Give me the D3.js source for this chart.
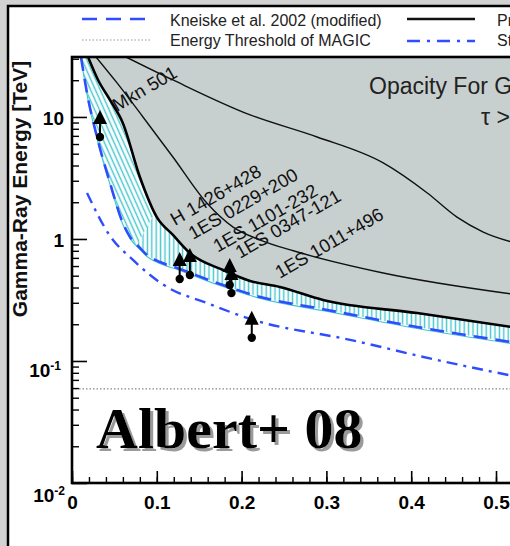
<!DOCTYPE html>
<html><head><meta charset="utf-8">
<script src="https://cdn.jsdelivr.net/npm/d3@7"></script>
<style>
html,body{margin:0;padding:0;background:#d2d2d2;overflow:hidden;}
svg{display:block;}
</style></head><body>
<svg id="c" width="510" height="546"></svg>
<script>
// ---------------- data ----------------
// thick black: Primack et al. 2005 (tau = 1 horizon)
const primackZ = [0.0189, 0.0307, 0.0448, 0.060, 0.080, 0.100, 0.119, 0.139, 0.178, 0.210, 0.245, 0.296, 0.407, 0.53];
const primackE = [31, 20.1, 13.8, 8.9, 3.22, 1.51, 1.08, 0.767, 0.557, 0.453, 0.404, 0.316, 0.247, 0.185];
// blue dashed: Kneiske et al. 2002 (modified)
const kneiskeZ = [0.0106, 0.0177, 0.0295, 0.0448, 0.060, 0.0684, 0.0802, 0.0884, 0.1038, 0.124, 0.171, 0.222, 0.301, 0.407, 0.53];
const kneiskeE = [31, 15.7, 6.85, 2.88, 1.35, 1.04, 0.843, 0.740, 0.647, 0.578, 0.436, 0.335, 0.262, 0.190, 0.139];
// blue dash-dot: Stecker et al. 2006
const steckerZ = [0.0177, 0.0448, 0.0719, 0.112, 0.159, 0.210, 0.328, 0.430, 0.53];
const steckerE = [2.38, 1.06, 0.673, 0.404, 0.299, 0.221, 0.149, 0.102, 0.073];
// thin black curves inside the opaque region
const tauAZ = [0.0637, 0.119, 0.210, 0.289, 0.367, 0.419, 0.454, 0.485, 0.53];
const tauAE = [31, 20.1, 10.4, 6.85, 4.20, 2.38, 1.51, 1.14, 0.90];
const tauBZ = [0.0283, 0.0531, 0.0837, 0.119, 0.159, 0.190, 0.222, 0.261, 0.367, 0.53];
const tauBE = [31, 19.0, 10, 4.70, 1.97, 1.25, 0.98, 0.80, 0.526, 0.345];
// energy threshold of MAGIC
const thresholdE = 0.059;
// sources (lower limits)
const srcNames = ["Mkn 501", "H 1426+428", "1ES 0229+200", "1ES 1101-232", "1ES 0347-121", "1ES 1011+496"];
const srcZ = [0.033, 0.127, 0.139, 0.186, 0.188, 0.212];
const srcE = [6.85, 0.47, 0.507, 0.42, 0.36, 0.155];
// source label anchors (redshift, energy)
const labelZ = [0.053, 0.1215, 0.1427, 0.172, 0.198, 0.245];
const labelE = [11.0, 1.28, 0.98, 0.77, 0.686, 0.47];
// axes
const xMajor = [0, 0.1, 0.2, 0.3, 0.4, 0.5, 0.6];
const xMinor = d3.range(0, 0.61, 0.02);
const yMajor = [0.01, 0.1, 1, 10];
const yMinor = [0.02,0.03,0.04,0.05,0.06,0.07,0.08,0.09,0.2,0.3,0.4,0.5,0.6,0.7,0.8,0.9,2,3,4,5,6,7,8,9,20,30];
const legendLabels = ["Kneiske et al. 2002 (modified)", "Energy Threshold of MAGIC", "Primack et al. 2005", "Stecker et al. 2006"];

// ---------------- drawing ----------------
const svg = d3.select("#c");
const x = d3.scaleLinear().domain([0, 0.5]).range([72, 496]);
const y = d3.scaleLog().domain([0.01, 31]).range([483, 57]);
const X0 = x(0), X1 = x(0.6), Y0 = y(0.01), Y1 = y(31);
const SANS = "'Liberation Sans', Arial, Helvetica, sans-serif";
const BLUE = "#2f4dff";
const CYAN = "#45c6cf";

// panel
svg.append("rect").attr("x", 8).attr("y", 6).attr("width", 540).attr("height", 560)
  .attr("fill", "#fff").attr("stroke", "#000").attr("stroke-width", 2.5);

const defs = svg.append("defs");
defs.append("filter").attr("id", "shadow").attr("x", "-10%").attr("y", "-10%").attr("width", "130%").attr("height", "140%")
  .append("feDropShadow").attr("dx", 3).attr("dy", 3).attr("stdDeviation", 0.6)
  .attr("flood-color", "#9a9a9a").attr("flood-opacity", 1);
defs.append("clipPath").attr("id", "plotclip").append("rect")
  .attr("x", X0).attr("y", Y1).attr("width", X1 - X0).attr("height", Y0 - Y1);

// seam between slanted and vertical hatching (a slanted line across the band)
const sA = [x(0.066), y(0.66)], sB = [x(0.105), y(2.0)];
const sl = (sB[0] - sA[0]) / (sB[1] - sA[1]);
const atY = yy => sA[0] + (yy - sA[1]) * sl;
defs.append("clipPath").attr("id", "cl").append("polygon")
  .attr("points", [[X0 - 5, Y1 - 5], [atY(Y1 - 5), Y1 - 5], [atY(Y0 + 5), Y0 + 5], [X0 - 5, Y0 + 5]].join(" "));
defs.append("clipPath").attr("id", "cr").append("polygon")
  .attr("points", [[atY(Y1 - 5), Y1 - 5], [X1 + 5, Y1 - 5], [X1 + 5, Y0 + 5], [atY(Y0 + 5), Y0 + 5]].join(" "));

function hatch(id, rot) {
  const p = defs.append("pattern").attr("id", id).attr("patternUnits", "userSpaceOnUse")
    .attr("width", 4.4).attr("height", 20);
  if (rot) p.attr("patternTransform", `rotate(${rot})`);
  p.append("rect").attr("width", 4.4).attr("height", 20).attr("fill", "#fff");
  p.append("line").attr("x1", 2.2).attr("x2", 2.2).attr("y1", 0).attr("y2", 20)
    .attr("stroke", CYAN).attr("stroke-width", 1.4);
}
hatch("hv", 0);
hatch("hd", -24);

const pts = (zs, es) => zs.map((z, i) => [z, es[i]]);
const primack = pts(primackZ, primackE);
const kneiske = pts(kneiskeZ, kneiskeE);
const stecker = pts(steckerZ, steckerE);
const tauA = pts(tauAZ, tauAE);
const tauB = pts(tauBZ, tauBE);

const line = d3.line().x(d => x(d[0])).y(d => y(d[1])).curve(d3.curveMonotoneX);
const plot = svg.append("g").attr("clip-path", "url(#plotclip)");

// opaque grey region
const area = d3.area().x(d => x(d[0])).y0(Y1 - 2).y1(d => y(d[1])).curve(d3.curveMonotoneX);
plot.append("path").datum(primack).attr("d", area).attr("fill", "#c8d0cf");

// hatched band between Kneiske and Primack
const bandPath = line(primack) + "L" + line(kneiske.slice().reverse()).slice(1) + "Z";
plot.append("g").attr("clip-path", "url(#cl)").append("path").attr("d", bandPath).attr("fill", "url(#hd)");
plot.append("g").attr("clip-path", "url(#cr)").append("path").attr("d", bandPath).attr("fill", "url(#hv)");
plot.append("path").datum(kneiske).attr("d", line).attr("fill", "none").attr("stroke", CYAN).attr("stroke-width", 1.2).attr("transform", "translate(0,1.5)");

// thin curves
[tauA, tauB].forEach(c => plot.append("path").datum(c).attr("d", line)
  .attr("fill", "none").attr("stroke", "#111").attr("stroke-width", 1.4));

// threshold
plot.append("line").attr("x1", X0).attr("x2", X1).attr("y1", y(thresholdE)).attr("y2", y(thresholdE))
  .attr("stroke", "#888").attr("stroke-width", 1.2).attr("stroke-dasharray", "1.5,2");

// model curves
plot.append("path").datum(stecker).attr("d", line).attr("fill", "none")
  .attr("stroke", BLUE).attr("stroke-width", 2.4).attr("stroke-dasharray", "11,6,3,6");
plot.append("path").datum(kneiske).attr("d", line).attr("fill", "none")
  .attr("stroke", BLUE).attr("stroke-width", 2.6).attr("stroke-dasharray", "14,8");
plot.append("path").datum(primack).attr("d", line).attr("fill", "none")
  .attr("stroke", "#000").attr("stroke-width", 2.6);

// source labels
plot.selectAll("text.src").data(srcNames).join("text").attr("class", "src")
  .attr("transform", (d, i) => `translate(${x(labelZ[i])},${y(labelE[i])}) rotate(-30)`)
  .attr("font-family", SANS).attr("font-size", 18.5).attr("fill", "#111").text(d => d);

// lower-limit arrows
const arr = plot.selectAll("g.arr").data(srcZ).join("g").attr("class", "arr")
  .attr("transform", (d, i) => `translate(${x(d)},${y(srcE[i])})`);
arr.append("line").attr("x1", 0).attr("x2", 0).attr("y1", 0).attr("y2", -14).attr("stroke", "#000").attr("stroke-width", 2);
arr.append("path").attr("d", "M0,-27L7,-13L-7,-13Z").attr("fill", "#000");
arr.append("circle").attr("r", 4.2).attr("fill", "#000");

// annotation
svg.append("text").attr("x", 369).attr("y", 94).attr("font-family", SANS).attr("font-size", 23)
  .attr("fill", "#222").text("Opacity For Gamma-Rays");
svg.append("text").attr("x", 481).attr("y", 125).attr("font-family", SANS).attr("font-size", 23)
  .attr("fill", "#222").text("τ > 1");

// Albert+ 08 with shadow
svg.append("text").attr("x", 96).attr("y", 448)
  .attr("font-family", "'Liberation Serif', 'Times New Roman', serif")
  .attr("font-weight", "bold").attr("font-size", 58).attr("fill", "#000")
  .attr("filter", "url(#shadow)").text("Albert+ 08");

// axes
const gx = svg.append("g").attr("transform", `translate(0,${Y0})`);
gx.call(d3.axisBottom(x).tickValues(xMinor).tickSize(-6).tickFormat(""));
gx.call(g => g.selectAll(".tick line").attr("stroke-width", 1.4));
const gx2 = svg.append("g").attr("transform", `translate(0,${Y0})`);
gx2.call(d3.axisBottom(x).tickValues(xMajor).tickSizeInner(-12).tickSizeOuter(0).tickPadding(12.5)
  .tickFormat(d => d === 0 ? "0" : d3.format(".1f")(d)));
gx2.select(".domain").remove();
gx2.selectAll(".tick line").attr("stroke-width", 1.6);
gx2.selectAll("text").attr("font-family", SANS).attr("font-weight", "bold").attr("font-size", 19).attr("fill", "#000");

const gy = svg.append("g").attr("transform", `translate(${X0},0)`);
gy.call(d3.axisLeft(y).tickValues(yMinor).tickSize(-7).tickFormat(""));
gy.select(".domain").remove();
gy.selectAll(".tick line").attr("stroke-width", 1.4);
const gy2 = svg.append("g").attr("transform", `translate(${X0},0)`);
gy2.call(d3.axisLeft(y).tickValues(yMajor).tickSizeInner(-15).tickSizeOuter(0).tickPadding(8).tickFormat(""));
gy2.select(".domain").remove();
gy2.selectAll(".tick line").attr("stroke-width", 1.6);
gy2.selectAll(".tick text").each(function (d) {
  const t = d3.select(this).attr("font-family", SANS).attr("font-weight", "bold").attr("font-size", 19).attr("fill", "#000");
  const e = Math.round(Math.log10(d));
  if (e >= 0) { t.attr("dy", "0.4em").text(String(Math.pow(10, e))); }
  else {
    t.attr("dy", e === -1 ? "0.8em" : "0.95em").attr("x", e === -1 ? -11 : -7);
    t.append("tspan").text("10");
    t.append("tspan").attr("dy", "-0.55em").attr("font-size", 12).text(String(e));
  }
});

// frame
svg.append("rect").attr("x", X0).attr("y", Y1).attr("width", X1 - X0).attr("height", Y0 - Y1)
  .attr("fill", "none").attr("stroke", "#000").attr("stroke-width", 2.6);

// y title
svg.append("text").attr("transform", `translate(27,189) rotate(-90)`).attr("text-anchor", "middle")
  .attr("font-family", SANS).attr("font-weight", "bold").attr("font-size", 21).attr("fill", "#111")
  .text("Gamma-Ray Energy [TeV]");

// legend
const lg = svg.append("g").attr("font-family", SANS).attr("font-size", 16).attr("fill", "#222");
lg.append("line").attr("x1", 82).attr("x2", 146).attr("y1", 19).attr("y2", 19)
  .attr("stroke", BLUE).attr("stroke-width", 2.4).attr("stroke-dasharray", "15,9");
lg.append("line").attr("x1", 82).attr("x2", 152).attr("y1", 40).attr("y2", 40)
  .attr("stroke", "#999").attr("stroke-width", 1.2).attr("stroke-dasharray", "1.5,2");
lg.append("line").attr("x1", 407).attr("x2", 475).attr("y1", 19).attr("y2", 19)
  .attr("stroke", "#111").attr("stroke-width", 2.4);
lg.append("line").attr("x1", 407).attr("x2", 475).attr("y1", 41).attr("y2", 41)
  .attr("stroke", BLUE).attr("stroke-width", 2.4).attr("stroke-dasharray", "13,7,3,7");
lg.append("text").attr("x", 170).attr("y", 26).text(legendLabels[0]);
lg.append("text").attr("x", 170).attr("y", 46).text(legendLabels[1]);
lg.append("text").attr("x", 497).attr("y", 26).text(legendLabels[2]);
lg.append("text").attr("x", 497).attr("y", 46).text(legendLabels[3]);
</script>
</body></html>
